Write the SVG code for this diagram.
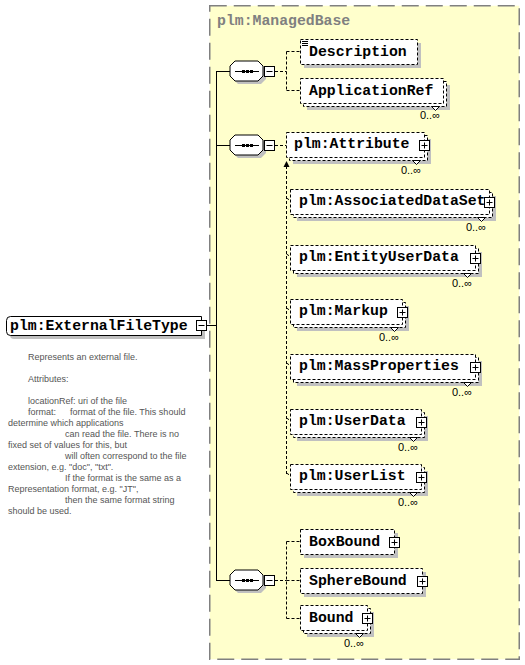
<svg xmlns="http://www.w3.org/2000/svg" xmlns:xlink="http://www.w3.org/1999/xlink" width="525" height="665" viewBox="0 0 525 665">
<style>
.bg{fill:#fff}
.sh{fill:#c0c0c0}
.el{fill:#fff;stroke:#000;stroke-width:1;stroke-dasharray:3 2}
.solid{fill:#fff;stroke:#000;stroke-width:1}
.t{font-family:"Liberation Mono","DejaVu Sans Mono",monospace;font-weight:bold;font-size:14.8px;fill:#000}
.ttl{font-family:"Liberation Mono","DejaVu Sans Mono",monospace;font-weight:bold;font-size:14.8px;fill:#808080}
.m{font-family:"Liberation Sans",Arial,sans-serif;font-size:11px;fill:#000;text-anchor:end}
.a{font-family:"Liberation Sans",Arial,sans-serif;font-size:9px;fill:#555}
.ln{stroke:#000;stroke-width:1;fill:none}
.dl{stroke:#000;stroke-width:1;fill:none;stroke-dasharray:3 2}
.notch{fill:#fff;stroke:#000;stroke-width:1}
</style>
<defs>
<g id="seq">
<path class="sh" d="M8,-7 H31 L36,-2 V8 L31,13 H8 L3,8 V-2 Z"/>
<path class="solid" d="M5,-10 H28 L33,-5 V5 L28,10 H5 L0,5 V-5 Z"/>
<line class="ln" x1="5" y1="0.5" x2="29" y2="0.5"/>
<rect x="12" y="-1" width="3" height="3" fill="#000"/>
<rect x="16" y="-1" width="3" height="3" fill="#000"/>
<rect x="20" y="-1" width="3" height="3" fill="#000"/>
<rect class="solid" x="34.5" y="-4.5" width="10" height="10"/>
<line class="ln" x1="36.5" y1="0.5" x2="42.5" y2="0.5"/>
</g>
<g id="plus">
<rect class="solid" x="-4.5" y="-4.5" width="10" height="10"/>
<line class="ln" x1="-2.5" y1="0.5" x2="3.5" y2="0.5"/>
<line class="ln" x1="0.5" y1="-2.5" x2="0.5" y2="3.5"/>
</g>
</defs>

<rect x="209.75" y="5.75" width="309.5" height="653.5" fill="#ffffcc" stroke="#808080" stroke-width="1.5" stroke-dasharray="17 7"/>
<text class="ttl" x="217" y="25">plm:ManagedBase</text>

<g id="connectors">
<line class="ln" x1="206" y1="325.5" x2="216.5" y2="325.5"/>
<line class="ln" x1="216.5" y1="71.5" x2="216.5" y2="580.5"/>
<line class="ln" x1="216" y1="71.5" x2="230" y2="71.5"/>
<line class="ln" x1="216" y1="145.5" x2="230" y2="145.5"/>
<line class="ln" x1="216" y1="580.5" x2="230" y2="580.5"/>
<path class="dl" d="M275,71.5 H286.5 M286.5,51.5 V90.5 M286.5,51.5 H300 M286.5,90.5 H300"/>
<path class="dl" d="M275,145.5 H286"/>
<path class="dl" d="M286.5,166 V476"/>
<polygon points="286.5,161 283.5,167 289.5,167" fill="#000"/>
<line class="ln" x1="287.5" y1="157.5" x2="291" y2="154"/>
<polygon points="293,152 288.5,153.5 291.5,156.5" fill="#000"/>
<path class="dl" d="M286.5,198 L289.5,200 M286.5,254 L289.5,256 M286.5,308 L289.5,310 M286.5,363 L289.5,365 M286.5,418 L289.5,420 M286.5,473 L289.5,475"/>
<path class="dl" d="M275,580.5 H286.5 M286.5,541.5 V618.5 M286.5,541.5 H300 M286.5,580.5 H300 M286.5,618.5 H300"/>
</g>

<g id="ExternalFileType">
<path class="sh" d="M14,320 H205 V339 H14 Q10,339 10,335 V324 Q10,320 14,320 Z"/>
<path class="solid" d="M10.5,316.5 H201.5 V335.5 H10.5 Q6.5,335.5 6.5,331.5 V320.5 Q6.5,316.5 10.5,316.5 Z"/>
<text class="t" x="10" y="330">plm:ExternalFileType</text>
<rect class="solid" x="196.5" y="320.5" width="10" height="10"/>
<line class="ln" x1="198.5" y1="325.5" x2="204.5" y2="325.5"/>
<text class="a" x="28" y="360">Represents an external file.</text>
<text class="a" x="28" y="382">Attributes:</text>
<text class="a" x="28" y="404">locationRef: uri of the file</text>
<text class="a" x="28" y="415">format:</text>
<text class="a" x="70" y="415">format of the file. This should</text>
<text class="a" x="8" y="426">determine which applications</text>
<text class="a" x="65" y="437">can read the file. There is no</text>
<text class="a" x="8" y="448">fixed set of values for this, but</text>
<text class="a" x="65" y="459">will often correspond to the file</text>
<text class="a" x="8" y="470">extension, e.g. "doc", "txt".</text>
<text class="a" x="65" y="481">If the format is the same as a</text>
<text class="a" x="8" y="492">Representation format, e.g. "JT",</text>
<text class="a" x="65" y="503">then the same format string</text>
<text class="a" x="8" y="514">should be used.</text>
</g>

<g id="seq1"><use xlink:href="#seq" x="230" y="71"/></g>
<g id="seq2"><use xlink:href="#seq" x="230" y="145"/></g>
<g id="seq3"><use xlink:href="#seq" x="230" y="580"/></g>

<g id="Description">
<rect class="sh" x="304" y="43" width="117" height="25"/>
<rect class="el" x="300.5" y="39.5" width="117" height="25"/>
<path class="ln" d="M302,41.5 H308 M302,43.5 H308 M302,45.5 H308"/>
<text class="t" x="309" y="56">Description</text>
</g>

<g id="ApplicationRef">
<rect class="sh" x="307" y="85" width="143" height="25"/>
<rect class="el" x="303.5" y="81.5" width="143" height="25"/>
<rect class="el" x="300.5" y="78.5" width="143" height="25"/>
<text class="t" x="309" y="95">ApplicationRef</text>
<polygon class="notch" points="431.5,106.5 435.5,110.5 439.5,106.5"/>
<text class="m" x="440" y="119">0..∞</text>
</g>

<g id="Attribute">
<rect class="sh" x="293" y="139" width="138" height="25"/>
<rect class="el" x="289.5" y="135.5" width="138" height="25"/>
<rect class="el" x="286.5" y="132.5" width="138" height="25"/>
<text class="t" x="294" y="148">plm:Attribute</text>
<use xlink:href="#plus" x="424" y="145"/>
<polygon class="notch" points="412.5,160.5 416.5,164.5 420.5,160.5"/>
<text class="m" x="421" y="174">0..∞</text>
</g>

<g id="AssociatedDataSet">
<rect class="sh" x="297" y="196" width="199" height="25"/>
<rect class="el" x="293.5" y="192.5" width="199" height="25"/>
<rect class="el" x="290.5" y="189.5" width="199" height="25"/>
<text class="t" x="299" y="205">plm:AssociatedDataSet</text>
<use xlink:href="#plus" x="489" y="202"/>
<polygon class="notch" points="477.5,217.5 481.5,221.5 485.5,217.5"/>
<text class="m" x="486" y="231">0..∞</text>
</g>

<g id="EntityUserData">
<rect class="sh" x="297" y="252" width="185" height="25"/>
<rect class="el" x="293.5" y="248.5" width="185" height="25"/>
<rect class="el" x="290.5" y="245.5" width="185" height="25"/>
<text class="t" x="299" y="261">plm:EntityUserData</text>
<use xlink:href="#plus" x="475" y="258"/>
<polygon class="notch" points="463.5,273.5 467.5,277.5 471.5,273.5"/>
<text class="m" x="472" y="287">0..∞</text>
</g>

<g id="Markup">
<rect class="sh" x="297" y="306" width="112" height="25"/>
<rect class="el" x="293.5" y="302.5" width="112" height="25"/>
<rect class="el" x="290.5" y="299.5" width="112" height="25"/>
<text class="t" x="299" y="315">plm:Markup</text>
<use xlink:href="#plus" x="402" y="312"/>
<polygon class="notch" points="390.5,327.5 394.5,331.5 398.5,327.5"/>
<text class="m" x="399" y="341">0..∞</text>
</g>

<g id="MassProperties">
<rect class="sh" x="297" y="361" width="185" height="25"/>
<rect class="el" x="293.5" y="357.5" width="185" height="25"/>
<rect class="el" x="290.5" y="354.5" width="185" height="25"/>
<text class="t" x="299" y="370">plm:MassProperties</text>
<use xlink:href="#plus" x="475" y="367"/>
<polygon class="notch" points="463.5,382.5 467.5,386.5 471.5,382.5"/>
<text class="m" x="472" y="396">0..∞</text>
</g>

<g id="UserData">
<rect class="sh" x="297" y="416" width="131" height="25"/>
<rect class="el" x="293.5" y="412.5" width="131" height="25"/>
<rect class="el" x="290.5" y="409.5" width="131" height="25"/>
<text class="t" x="299" y="425">plm:UserData</text>
<use xlink:href="#plus" x="421" y="422"/>
<polygon class="notch" points="409.5,437.5 413.5,441.5 417.5,437.5"/>
<text class="m" x="418" y="451">0..∞</text>
</g>

<g id="UserList">
<rect class="sh" x="297" y="471" width="131" height="25"/>
<rect class="el" x="293.5" y="467.5" width="131" height="25"/>
<rect class="el" x="290.5" y="464.5" width="131" height="25"/>
<text class="t" x="299" y="480">plm:UserList</text>
<use xlink:href="#plus" x="421" y="477"/>
<polygon class="notch" points="409.5,492.5 413.5,496.5 417.5,492.5"/>
<text class="m" x="418" y="506">0..∞</text>
</g>

<g id="BoxBound">
<rect class="sh" x="304" y="533" width="94" height="25"/>
<rect class="el" x="300.5" y="529.5" width="94" height="25"/>
<text class="t" x="309" y="546">BoxBound</text>
<use xlink:href="#plus" x="394" y="542"/>
</g>

<g id="SphereBound">
<rect class="sh" x="304" y="572" width="122" height="25"/>
<rect class="el" x="300.5" y="568.5" width="122" height="25"/>
<text class="t" x="309" y="585">SphereBound</text>
<use xlink:href="#plus" x="422" y="581"/>
</g>

<g id="Bound">
<rect class="sh" x="307" y="612" width="67" height="25"/>
<rect class="el" x="303.5" y="608.5" width="67" height="25"/>
<rect class="el" x="300.5" y="605.5" width="67" height="25"/>
<text class="t" x="309" y="622">Bound</text>
<use xlink:href="#plus" x="367" y="618"/>
<polygon class="notch" points="355.5,633.5 359.5,637.5 363.5,633.5"/>
<text class="m" x="364" y="647">0..∞</text>
</g>
</svg>
